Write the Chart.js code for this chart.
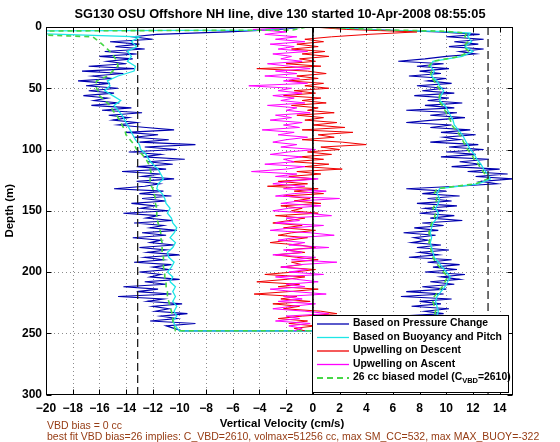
<!DOCTYPE html>
<html><head><meta charset="utf-8">
<script src="https://cdn.jsdelivr.net/npm/chart.js@4/dist/chart.umd.min.js"></script>
<style>html,body{margin:0;padding:0;background:#fff}canvas{display:block}</style>
</head><body>
<canvas id="c" width="560" height="442"></canvas>
<script>
// ---------- texts ----------
const titleText = "SG130 OSU Offshore NH line, dive 130 started 10-Apr-2008 08:55:05";
const xLabelText = "Vertical Velocity (cm/s)";
const yLabelText = "Depth (m)";
const note1 = "VBD bias = 0 cc";
const note2 = "best fit VBD bias=26 implies: C_VBD=2610, volmax=51256 cc, max SM_CC=532, max MAX_BUOY=-322";
const legendLabels = ["Based on Pressure Change","Based on Buoyancy and Pitch","Upwelling on Descent","Upwelling on Ascent","26 cc biased model (C|VBD|=2610)"];

// ---------- ticks ----------
const xTickValues = [-20,-18,-16,-14,-12,-10,-8,-6,-4,-2,0,2,4,6,8,10,12,14];
const yTickValues = [0,50,100,150,200,250,300];
const xRange = [-20, 15];
const yRange = [0, 300];

// ---------- depths ----------
const depth2 = [0,2,4,6,8,10,12,14,16,18,20,22,24,26,28,30,32,34,36,38,40,42,44,46,48,50,52,54,56,58,60,62,64,66,68,70,72,74,76,78,80,82,84,86,88,90,92,94,96,98,100,102,104,106,108,110,112,114,116,118,120,122,124,126,128,130,132,134,136,138,140,142,144,146,148,150,152,154,156,158,160,162,164,166,168,170,172,174,176,178,180,182,184,186,188,190,192,194,196,198,200,202,204,206,208,210,212,214,216,218,220,222,224,226,228,230,232,234,236,238,240,242,244,246,248];
const modelDepth = [0,2.5,3.5,5,8,12,16,20,24,28,32,36,40,44,48,52,56,60,64,68,72,76,80,84,88,92,96,100,104,108,112,116,120,124,128,132,136,140,144,148,152,156,160,164,168,172,176,180,184,188,192,196,200,204,208,212,216,220,224,228,232,236,240,244,248];

// ---------- series (cm/s) ----------
// pressure-change based velocity, descent (on depth2)
const pressureDown = [
-0.5,-2.5,-6.4,-11.7,-13.5,-12.0,-15.2,-13.0,-14.8,-12.6,
-15.6,-13.2,-16.0,-13.5,-15.4,-14.0,-16.8,-13.4,-17.3,-14.2,
-16.5,-15.0,-17.6,-15.2,-17.0,-14.6,-16.8,-14.9,-17.2,-15.4,
-16.4,-14.5,-16.6,-13.6,-15.8,-12.8,-15.3,-13.8,-15.0,-13.2,
-14.6,-12.5,-10.4,-14.0,-11.6,-13.4,-10.8,-13.0,-8.8,-12.6,
-10.2,-13.8,-11.4,-12.7,-9.6,-12.4,-10.5,-13.2,-11.0,-14.3,
-11.4,-12.8,-10.4,-13.2,-11.5,-12.6,-14.9,-11.2,-13.0,-10.6,
-12.8,-11.0,-13.6,-11.8,-12.9,-10.8,-14.2,-11.6,-12.5,-10.5,
-13.4,-11.2,-12.2,-10.2,-12.8,-11.0,-13.5,-11.4,-12.2,-10.4,
-13.0,-11.0,-12.4,-10.0,-12.6,-11.2,-13.4,-10.6,-12.0,-10.8,
-13.0,-11.4,-12.2,-10.0,-12.6,-11.0,-14.2,-11.6,-13.2,-10.6,
-14.6,-11.2,-12.4,-9.8,-12.0,-10.8,-11.8,-9.4,-11.4,-10.2,
-12.2,-8.8,-11.0,-10.4,-9.8];
// pressure-change based velocity, ascent (on depth2)
const pressureUp = [
0.5,4.0,9.5,12.5,10.0,12.8,10.6,12.4,10.2,12.8,
11.0,12.2,10.0,8.4,6.4,9.8,7.8,10.2,8.0,9.6,
7.2,10.0,8.6,10.4,7.8,9.8,8.2,10.6,7.6,10.2,
8.6,11.2,8.4,10.6,7.0,10.8,8.8,11.4,9.0,7.0,
10.4,8.8,11.8,9.6,12.2,9.8,11.0,8.8,12.4,10.2,
12.8,10.0,12.2,9.6,13.2,11.0,12.6,10.4,14.0,11.6,
14.6,12.2,15.0,12.6,13.8,10.8,7.0,10.0,8.2,11.0,
8.6,10.4,7.8,10.8,8.4,9.8,8.0,10.6,8.8,11.2,
8.2,9.8,7.6,9.4,6.8,9.2,7.6,8.6,7.4,9.6,
7.8,10.2,8.0,9.4,7.2,10.4,8.6,11.0,9.0,10.8,
8.4,11.4,9.6,11.0,8.8,10.6,8.2,10.0,7.0,9.8,
6.6,10.4,8.0,9.6,7.4,10.2,8.4,9.8,6.6,10.0,
7.8,10.6,8.2,9.6,9.0];
// buoyancy & pitch based velocity (on modelDepth)
const buoyDown = [-1.0,-4.0,-26,-22,
-13.0,-13.6,-13.2,-13.9,-13.6,-13.9,-13.3,-13.4,-14.6,-15.4,
-15.2,-15.6,-15.0,-14.4,-14.9,-14.6,-14.3,-14.1,-13.9,-13.7,
-13.5,-13.3,-13.0,-12.9,-12.5,-12.3,-12.0,-11.6,-11.4,-11.2,
-11.6,-11.7,-11.3,-11.1,-11.0,-10.7,-10.9,-10.6,-10.5,-10.2,
-10.4,-10.7,-10.3,-10.5,-10.9,-10.8,-10.4,-10.6,-10.9,-10.5,
-10.7,-10.3,-10.5,-10.3,-10.5,-10.2,-10.4,-10.2,-10.5,-10.3,
-10.0];
const buoyUp = [0.5,5.0,9.5,11.8,
11.6,11.9,11.4,12.0,11.2,9.0,8.8,9.1,8.9,9.3,
9.5,9.8,9.6,9.5,9.9,10.1,10.3,10.5,10.6,10.9,
11.2,11.4,11.6,11.8,12.1,12.3,12.6,12.8,13.1,13.3,
12.4,9.5,9.3,9.5,9.4,9.2,9.4,9.3,9.0,8.9,
8.8,8.9,8.8,8.9,9.0,9.1,9.4,9.7,10.0,10.3,
10.1,9.9,9.6,9.3,9.2,9.3,9.4,9.3,9.4,9.3,
9.2];
// 26 cc biased model (on modelDepth)
const modelDown = [-0.5,-1.5,-26,-24,
-16.5,-16.0,-15.6,-15.2,-14.9,-14.7,-14.6,-15.0,-15.4,-16.2,
-16.3,-16.1,-16.0,-15.6,-15.2,-15.0,-14.7,-14.5,-14.3,-14.1,
-14.0,-13.7,-13.4,-13.2,-12.8,-12.5,-12.3,-12.2,-12.1,-12.2,
-12.2,-12.0,-11.9,-11.8,-11.8,-11.7,-11.7,-11.7,-11.6,-11.5,
-11.4,-11.4,-11.3,-11.3,-11.3,-11.2,-11.2,-11.2,-11.1,-11.1,
-11.0,-11.0,-10.9,-10.9,-10.8,-10.7,-10.6,-10.5,-10.5,-10.4,
-10.3];
const modelUp = [0.5,6.0,10.0,11.5,
11.4,11.6,11.3,11.7,11.0,9.0,8.7,8.9,8.8,9.1,
9.3,9.6,9.5,9.4,9.7,9.9,10.1,10.3,10.4,10.7,
11.0,11.2,11.4,11.6,11.9,12.1,12.4,12.6,12.9,13.1,
12.2,9.3,9.1,9.3,9.2,9.0,9.2,9.1,8.9,8.8,
8.7,8.8,8.7,8.8,8.9,9.0,9.2,9.5,9.8,10.1,
9.9,9.7,9.4,9.1,9.0,9.1,9.2,9.1,9.2,9.1,
9.0];
// upwelling on descent (on depth2)
const upwellDown = [
0.0,2.5,7.8,4.2,1.4,-0.6,0.8,-1.2,0.4,-1.6,
0.9,-0.8,1.2,-1.0,0.2,-2.0,0.6,-4.2,-0.4,1.0,
-1.2,0.4,-1.8,0.8,-0.6,1.2,-1.4,0.2,-2.2,0.6,
-0.8,1.0,-1.6,0.4,-0.4,1.6,-1.2,0.8,-0.6,1.8,
0.0,2.4,-0.8,3.0,0.4,1.6,-0.8,2.2,4.0,0.6,
2.0,-0.4,1.4,-1.0,0.8,-1.6,1.2,-0.6,2.2,-1.2,
0.6,-1.8,0.2,-2.6,-0.4,-3.4,0.4,-1.4,0.8,-2.2,
-0.2,-1.4,0.6,-2.4,-0.8,-1.6,0.4,-2.8,-0.6,-1.8,
-3.0,-0.8,-2.2,0.2,-1.6,-2.6,-0.4,-1.8,-3.2,-1.0,
0.2,-2.0,-0.6,-2.8,-1.2,0.4,-1.6,-0.8,-2.4,0.2,
-1.4,-3.6,-0.6,-2.0,-4.2,-1.0,-2.6,0.4,-1.8,-4.4,
-1.2,-2.4,-0.2,-3.0,-1.0,-2.2,0.6,1.8,-0.8,-2.6,
-0.4,-1.8,0.2,-1.4,-0.6];
// upwelling on ascent (on depth2)
const upwellUp = [
-0.5,-4.5,-2.0,-3.6,-1.2,-2.8,-0.6,-3.2,-1.4,-2.6,
-0.4,-3.0,-1.6,-2.4,-0.8,-3.4,-1.8,-0.2,-2.8,-1.2,
-3.6,-1.0,-2.2,-0.4,-4.8,-1.6,-2.6,-0.8,-3.0,-1.4,
-2.4,-0.6,-3.4,-1.2,-2.0,-0.2,-2.8,-1.6,-3.2,-0.8,
-2.2,-1.0,-3.8,-1.4,-2.6,-0.4,-2.0,-3.0,-1.2,-2.4,
0.2,-1.8,-3.2,-0.8,-2.2,-1.4,-3.6,-0.6,-2.0,-4.6,
-1.2,-2.8,0.4,-1.8,-3.0,-0.6,-2.2,1.0,-1.4,-2.8,
2.0,-1.0,-2.4,0.6,-1.8,-3.0,-0.4,1.4,-2.0,-1.0,
-2.8,0.8,-1.6,-3.2,-0.2,1.6,-1.4,-2.6,-0.6,-1.8,
1.2,-2.2,-0.8,-3.0,0.2,-1.6,1.8,-1.0,-2.4,-0.4,
-1.8,0.8,-2.8,-1.2,0.4,-2.0,-0.6,-3.2,-1.4,1.0,
-2.2,-0.8,-2.6,0.2,-1.6,-3.0,-0.6,1.2,-2.0,-1.0,
-2.8,-0.2,-1.8,-0.8,-1.4];
// reference lines
const zeroLine = [0];
const velocityLimits = [-13.13, 13.13];

// ---------- colours ----------
const C_BLUE = 'rgb(0,0,175)';
const C_CYAN = 'rgb(30,230,230)';
const C_RED = 'rgb(240,0,0)';
const C_MAG = 'rgb(255,0,255)';
const C_GREEN = 'rgb(70,215,70)';
const C_NOTE = 'rgb(150,60,20)';
const FONT = '"Liberation Sans", Arial, Helvetica, sans-serif';

// ---------- build point lists ----------
function pts(xs, ys){ return xs.map((v,i)=>({x:v, y:ys[i]})); }
function downUp(down, up, depths){
  const a = pts(down, depths);
  const b = pts(up, depths).reverse();
  return a.concat(b);
}
const vLine = v => yRange.map(d=>({x:v, y:d}));

const common = {showLine:true, pointRadius:0, pointHoverRadius:0, fill:false, tension:0, borderWidth:1, clip:0};

const datasets = [
  Object.assign({}, common, {label:legendLabels[0], data:downUp(pressureDown, pressureUp, depth2), borderColor:C_BLUE, borderWidth:1.15, order:4}),
  Object.assign({}, common, {label:legendLabels[1], data:downUp(buoyDown, buoyUp, modelDepth), borderColor:C_CYAN, borderWidth:1.3, order:3}),
  Object.assign({}, common, {label:legendLabels[2], data:pts(upwellDown, depth2), borderColor:C_RED, order:2}),
  Object.assign({}, common, {label:legendLabels[3], data:pts(upwellUp, depth2), borderColor:C_MAG, order:1}),
  Object.assign({}, common, {label:legendLabels[4], data:downUp(modelDown, modelUp, modelDepth), borderColor:C_GREEN, borderWidth:1.6, borderDash:[5,4], order:0}),
  Object.assign({}, common, {label:'zero', data:vLine(zeroLine[0]), borderColor:'#000', borderWidth:1, order:-1}),
  Object.assign({}, common, {label:'limL', data:vLine(velocityLimits[0]), borderColor:'#222', borderWidth:1.3, borderDash:[8,4], order:-1}),
  Object.assign({}, common, {label:'limR', data:vLine(velocityLimits[1]), borderColor:'#222', borderWidth:1.3, borderDash:[8,4], order:-1})
];

const deco = {
  id:'deco',
  beforeDatasetsDraw(chart){
    const {ctx, chartArea:a, scales:{x,y}} = chart;
    ctx.save();
    ctx.strokeStyle = '#8c8c8c'; ctx.lineWidth = 1; ctx.setLineDash([1,3]);
    xTickValues.forEach(v=>{
      if (v<=xRange[0] || v>=xRange[1]) return;
      const px = Math.round(x.getPixelForValue(v))+0.5;
      ctx.beginPath(); ctx.moveTo(px,a.top); ctx.lineTo(px,a.bottom); ctx.stroke();
    });
    yTickValues.forEach(v=>{
      if (v<=yRange[0] || v>=yRange[1]) return;
      const py = Math.round(y.getPixelForValue(v))+0.5;
      ctx.beginPath(); ctx.moveTo(a.left,py); ctx.lineTo(a.right,py); ctx.stroke();
    });
    ctx.restore();
  },
  afterDatasetsDraw(chart){
    const {ctx, chartArea:a, scales:{x,y}} = chart;
    ctx.save();
    ctx.setLineDash([]);
    ctx.strokeStyle = '#000'; ctx.lineWidth = 1;
    const L = Math.round(a.left)+0.5, R = Math.round(a.right)-0.5, T = Math.round(a.top)+0.5, B = Math.round(a.bottom)-0.5;
    ctx.strokeRect(L, T, R-L, B-T);
    const tl = 5;
    xTickValues.forEach(v=>{
      const px = Math.round(x.getPixelForValue(v))+0.5;
      ctx.beginPath(); ctx.moveTo(px,B); ctx.lineTo(px,B-tl); ctx.moveTo(px,T); ctx.lineTo(px,T+tl); ctx.stroke();
    });
    yTickValues.forEach(v=>{
      const py = Math.round(y.getPixelForValue(v))+0.5;
      ctx.beginPath(); ctx.moveTo(L,py); ctx.lineTo(L+tl,py); ctx.moveTo(R,py); ctx.lineTo(R-tl,py); ctx.stroke();
    });
    // legend
    const lx = 312.5, ly = 315.5, lw = 196, lh = 77;
    ctx.fillStyle = '#fff'; ctx.fillRect(lx, ly, lw, lh);
    ctx.strokeStyle = '#000'; ctx.strokeRect(lx, ly, lw, lh);
    const rows = [323.5, 337, 350.5, 364, 377.5];
    const cols = [C_BLUE, C_CYAN, C_RED, C_MAG, C_GREEN];
    ctx.textBaseline = 'middle'; ctx.textAlign = 'left';
    const LF = 'bold 10.4px ' + FONT;
    rows.forEach((ry,i)=>{
      ctx.beginPath();
      ctx.strokeStyle = cols[i];
      ctx.lineWidth = i===4 ? 2 : 1.3;
      ctx.setLineDash(i===4 ? [6,4] : []);
      ctx.moveTo(317, ry+0.5); ctx.lineTo(349, ry+0.5); ctx.stroke();
      ctx.setLineDash([]);
      ctx.fillStyle = '#000';
      ctx.font = LF;
      const parts = legendLabels[i].split('|');
      let tx = 353;
      parts.forEach((p,k)=>{
        if (k===1){ ctx.font = 'bold 7.5px ' + FONT; ctx.fillText(p, tx, ry+3.5); tx += ctx.measureText(p).width; ctx.font = LF; }
        else { ctx.fillText(p, tx, ry); tx += ctx.measureText(p).width; }
      });
    });
    ctx.restore();
  },
  afterDraw(chart){
    const {ctx, chartArea:a} = chart;
    ctx.save();
    ctx.fillStyle = '#000';
    ctx.textAlign = 'center'; ctx.textBaseline = 'middle';
    ctx.font = 'bold 12.8px ' + FONT;
    ctx.fillText(titleText, 280, 14);
    ctx.font = 'bold 11.5px ' + FONT;
    ctx.fillText(xLabelText, 282, 424);
    ctx.save();
    ctx.translate(10, (a.top+a.bottom)/2); ctx.rotate(-Math.PI/2);
    ctx.fillText(yLabelText, 0, 0);
    ctx.restore();
    ctx.fillStyle = C_NOTE; ctx.textAlign = 'left'; ctx.textBaseline = 'alphabetic';
    ctx.font = '10.5px ' + FONT;
    ctx.fillText(note1, 47, 428.5);
    ctx.fillText(note2, 47, 439.5);
    ctx.restore();
  }
};

new Chart(document.getElementById('c'), {
  type:'scatter',
  data:{datasets},
  options:{
    responsive:false, animation:false, devicePixelRatio:1,
    layout:{padding:{left:0, top:27, right:47, bottom:0}},
    plugins:{legend:{display:false}, title:{display:false}, tooltip:{enabled:false}},
    events:[],
    scales:{
      x:{type:'linear', min:xRange[0], max:xRange[1],
         afterFit(s){ s.height = 47.5; },
         afterBuildTicks(s){ s.ticks = xTickValues.map(v=>({value:v})); },
         grid:{display:false, drawTicks:false, tickLength:0},
         border:{display:false},
         ticks:{autoSkip:false, maxRotation:0, padding:7, color:'#000',
                font:{family:FONT, weight:'bold', size:12},
                callback:v=> v<0 ? '\u2212'+Math.abs(v) : String(v)}},
      y:{type:'linear', reverse:true, min:yRange[0], max:yRange[1],
         afterFit(s){ s.width = 46; },
         afterBuildTicks(s){ s.ticks = yTickValues.map(v=>({value:v})); },
         grid:{display:false, drawTicks:false, tickLength:0},
         border:{display:false},
         ticks:{autoSkip:false, padding:4, color:'#000',
                font:{family:FONT, weight:'bold', size:12}}}
    }
  },
  plugins:[deco]
});
</script>
</body></html>
